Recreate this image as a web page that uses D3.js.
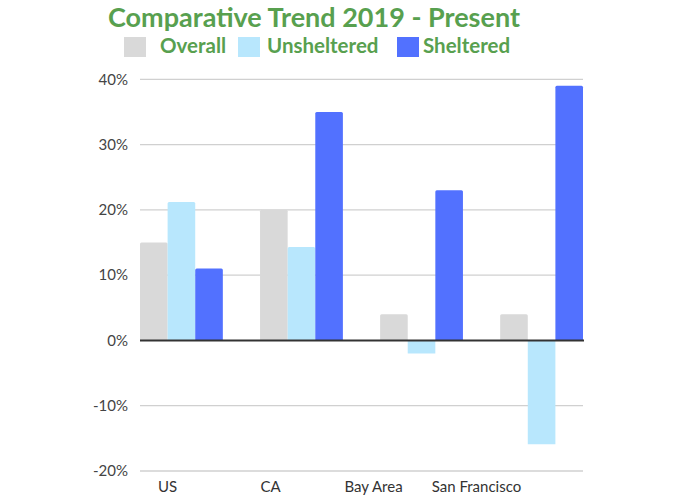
<!DOCTYPE html>
<html><head><meta charset="utf-8">
<script src="https://cdn.jsdelivr.net/npm/d3@7"></script>
<style>body{margin:0;background:#fff}svg{display:block}</style>
</head><body>
<svg id="c" width="700" height="500"></svg>
<script>
const categories = ["US", "CA", "Bay Area", "San Francisco"];
const seriesNames = ["Overall", "Unsheltered", "Sheltered"];
const overall = [15, 20, 4, 4];
const unsheltered = [21.2, 14.3, -2, -15.9];
const sheltered = [11, 35, 23, 39];
const yTicks = [-20, -10, 0, 10, 20, 30, 40];
const colors = ["#d9d9d9", "#b8e7fd", "#5271ff"];

const svg = d3.select("#c");
const green = "#58a04f";
const font = "Lato, 'Open Sans', sans-serif";

const x0 = d3.scaleBand().domain(categories).range([140, 583]).paddingInner(0.31).paddingOuter(0);
const x1 = d3.scaleBand().domain(seriesNames).range([0, x0.bandwidth()]).padding(0);
const xl = d3.scaleBand().domain(categories).range([116, 528]);
const y = d3.scaleLinear().domain([-20, 40]).range([471, 79.3]);
const color = d3.scaleOrdinal().domain(seriesNames).range(colors);

const rows = categories.map((c, i) => ({cat: c, vals: [overall[i], unsheltered[i], sheltered[i]]}));

// gridlines
svg.append("g").selectAll("line").data(yTicks.filter(t => t !== 0)).join("line")
  .attr("x1", 140).attr("x2", 583)
  .attr("y1", d => y(d)).attr("y2", d => y(d))
  .attr("stroke", "#d0d0d0").attr("stroke-width", 1.3);

// y axis labels
const yAxis = d3.axisLeft(y).tickValues(yTicks).tickFormat(d => d + "%").tickSize(0).tickPadding(0);
const ya = svg.append("g").attr("transform", "translate(128,0)").call(yAxis);
ya.select(".domain").remove();
ya.selectAll("text").attr("font-family", font).attr("font-size", 15).attr("fill", "#444");

// bars
const g = svg.append("g").selectAll("g").data(rows).join("g")
  .attr("transform", d => `translate(${x0(d.cat)},0)`);
g.selectAll("path").data(d => d.vals.map((v, j) => ({name: seriesNames[j], v}))).join("path")
  .attr("fill", d => color(d.name))
  .attr("d", d => {
    const xa = x1(d.name), w = x1.bandwidth();
    const y0 = y(0), yv = y(d.v);
    const r = 1.5;
    if (d.v >= 0) {
      return `M${xa},${y0}V${yv + r}Q${xa},${yv} ${xa + r},${yv}H${xa + w - r}Q${xa + w},${yv} ${xa + w},${yv + r}V${y0}Z`;
    } else {
      return `M${xa},${y0}V${yv}H${xa + w}V${y0}Z`;
    }
  });

// zero line
svg.append("line").attr("x1", 140).attr("x2", 584).attr("y1", y(0)).attr("y2", y(0))
  .attr("stroke", "#333").attr("stroke-width", 2);

// x labels
const xAxis = d3.axisBottom(xl).tickSize(0).tickPadding(0);
const xa = svg.append("g").attr("transform", "translate(0,481)").call(xAxis);
xa.select(".domain").remove();
xa.selectAll("text").attr("font-family", font).attr("font-size", 15).attr("fill", "#333").attr("dy", "0.71em");

// title
svg.append("text").attr("x", 314).attr("y", 27).attr("text-anchor", "middle")
  .attr("font-family", font).attr("font-weight", "bold").attr("font-size", 27)
  .attr("fill", green).text("Comparative Trend 2019 - Present");

// legend
const legendX = [124, 238, 397];
const lg = svg.append("g").selectAll("g").data(seriesNames).join("g")
  .attr("transform", (d, i) => `translate(${legendX[i]},37)`);
lg.append("rect").attr("width", 22).attr("height", 20).attr("fill", d => color(d));
lg.append("text").attr("x", (d, i) => i === 0 ? 36 : (i === 1 ? 29 : 26)).attr("y", 16)
  .attr("font-family", font).attr("font-weight", "bold").attr("font-size", 20.5)
  .attr("fill", green).text(d => d);
</script>
</body></html>
